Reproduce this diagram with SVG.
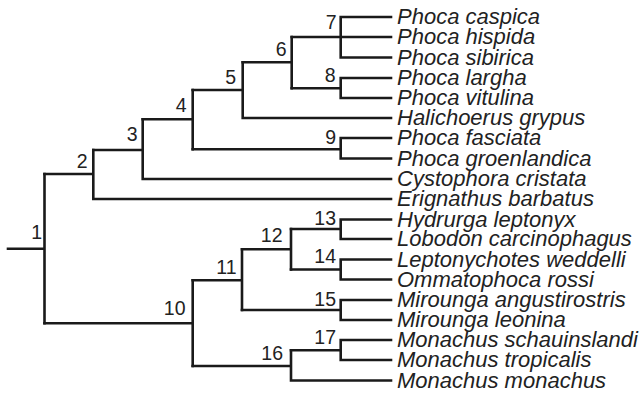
<svg xmlns="http://www.w3.org/2000/svg" width="644" height="396" viewBox="0 0 644 396">
<style>
.e{fill:none;stroke:#1a1a1a;stroke-width:2.6;stroke-linecap:square;stroke-linejoin:miter}
.sp{font-family:"Liberation Sans",Arial,sans-serif;font-style:italic;font-size:22px;fill:#222}
.n{font-family:"Liberation Sans",Arial,sans-serif;font-size:19.5px;fill:#222;text-anchor:end}
</style>
<rect width="644" height="396" fill="#fff"/>
<g id="connectors" class="e">
<path d="M8 248.7H44.5M44.5 174V323.3"/>
<path d="M44.5 174H93.3M93.3 150V199H391"/>
<path d="M93.3 150H142.7M142.7 119.3V179H391"/>
<path d="M142.7 119.3H192.7M192.7 90V149.3"/>
<path d="M192.7 149.3H340.7M391 138H340.7V158.5H391"/>
<path d="M192.7 90H242.7M242.7 62.3V118H391"/>
<path d="M242.7 62.3H291.7M291.7 37V88.3"/>
<path d="M291.7 37H391M391 17H340.7V57.5H391"/>
<path d="M291.7 88.3H340.7M391 78H340.7V98H391"/>
<path d="M44.5 323.3H192.7M192.7 280.3V366"/>
<path d="M192.7 280.3H242M242 249.3V310"/>
<path d="M242 249.3H291M291 229V269.5"/>
<path d="M291 229H340.7M391 219.5H340.7V239H391"/>
<path d="M291 269.5H340.7M391 259.5H340.7V279.5H391"/>
<path d="M242 310H340.7M391 300H340.7V320H391"/>
<path d="M192.7 366H291M291 350.3V380.5H391"/>
<path d="M291 350.3H340.7M391 340H340.7V360H391"/>
</g>
<g id="n1"><text class="n" x="42" y="239.3">1</text></g>
<g id="n2"><text class="n" x="87.5" y="167.5">2</text></g>
<g id="n3"><text class="n" x="137.5" y="141">3</text></g>
<g id="n4"><text class="n" x="186.5" y="112.3">4</text></g>
<g id="n5"><text class="n" x="236" y="84">5</text></g>
<g id="n6"><text class="n" x="286.5" y="56">6</text></g>
<g id="n7"><text class="n" x="336.5" y="29.3">7</text></g>
<g id="n8"><text class="n" x="335.5" y="82">8</text></g>
<g id="n9"><text class="n" x="336" y="143.5">9</text></g>
<g id="n10"><text class="n" x="185.5" y="315">10</text></g>
<g id="n11"><text class="n" x="236.5" y="274.3">11</text></g>
<g id="n12"><text class="n" x="282.5" y="242">12</text></g>
<g id="n13"><text class="n" x="336" y="224.5">13</text></g>
<g id="n14"><text class="n" x="336" y="263">14</text></g>
<g id="n15"><text class="n" x="336" y="306">15</text></g>
<g id="n16"><text class="n" x="283" y="360">16</text></g>
<g id="n17"><text class="n" x="336" y="344">17</text></g>
<g id="t0"><text class="sp" x="397" y="24.3">Phoca caspica</text></g>
<g id="t1"><text class="sp" x="397" y="44.3">Phoca hispida</text></g>
<g id="t2"><text class="sp" x="397" y="64.8">Phoca sibirica</text></g>
<g id="t3"><text class="sp" x="397" y="85.3">Phoca largha</text></g>
<g id="t4"><text class="sp" x="397" y="105.3">Phoca vitulina</text></g>
<g id="t5"><text class="sp" x="397" y="125.3">Halichoerus grypus</text></g>
<g id="t6"><text class="sp" x="397" y="145.3">Phoca fasciata</text></g>
<g id="t7"><text class="sp" x="397" y="165.8">Phoca groenlandica</text></g>
<g id="t8"><text class="sp" x="397" y="186.3">Cystophora cristata</text></g>
<g id="t9"><text class="sp" x="397" y="206.3">Erignathus barbatus</text></g>
<g id="t10"><text class="sp" x="397" y="226.8">Hydrurga leptonyx</text></g>
<g id="t11"><text class="sp" x="397" y="246.3">Lobodon carcinophagus</text></g>
<g id="t12"><text class="sp" x="397" y="266.8">Leptonychotes weddelli</text></g>
<g id="t13"><text class="sp" x="397" y="286.8">Ommatophoca rossi</text></g>
<g id="t14"><text class="sp" x="397" y="307.3">Mirounga angustirostris</text></g>
<g id="t15"><text class="sp" x="397" y="327.3">Mirounga leonina</text></g>
<g id="t16"><text class="sp" x="397" y="347.3">Monachus schauinslandi</text></g>
<g id="t17"><text class="sp" x="397" y="367.3">Monachus tropicalis</text></g>
<g id="t18"><text class="sp" x="397" y="387.8">Monachus monachus</text></g>
</svg>
